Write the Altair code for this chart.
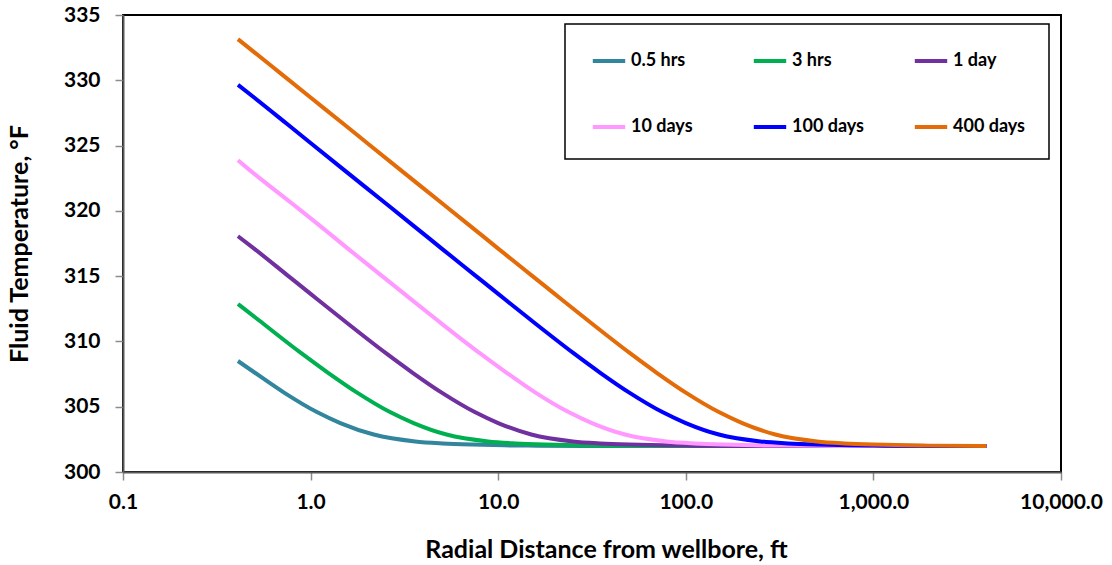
import altair as alt
import pandas as pd

# Radial distance from wellbore (ft) and fluid temperature (°F)
R_05H = [0.41, 0.505, 0.722, 1.08, 1.44, 2.17, 3.61, 5.05, 7.22, 10.8, 14.4, 28.9, 4000]
T_05H = [308.50, 307.60, 306.08, 304.59, 303.75, 302.87, 302.34, 302.19, 302.10, 302.04,
         302.02, 302.00, 302.00]

R_3H = [0.41, 0.53, 0.884, 1.24, 1.77, 2.65, 3.54, 5.3, 8.84, 12.4, 17.7, 26.5, 35.4, 70.7, 4000]
T_3H = [312.87, 311.62, 309.14, 307.60, 306.08, 304.59, 303.75, 302.87, 302.34, 302.19,
        302.10, 302.04, 302.02, 302.00, 302.00]

R_1D = [0.41, 0.5, 0.75, 1, 1.5, 2.5, 3.5, 5, 7.5, 10, 15, 25, 35, 50, 75, 100, 200, 4000]
T_1D = [318.06, 317.11, 315.08, 313.64, 311.62, 309.14, 307.60, 306.08, 304.59, 303.75,
        302.87, 302.34, 302.19, 302.10, 302.04, 302.02, 302.00, 302.00]

R_10D = [0.41, 0.47, 0.79, 1.11, 1.58, 2.37, 3.16, 4.74, 7.91, 11.1, 15.8, 23.7, 31.6,
         47.4, 79.1, 111, 158, 237, 316, 632, 4000]
T_10D = [323.87, 323.16, 320.60, 318.91, 317.11, 315.08, 313.64, 311.62, 309.14, 307.60,
         306.08, 304.59, 303.75, 302.87, 302.34, 302.19, 302.10, 302.04, 302.02, 302.00, 302.00]

R_100D = [0.41, 0.5, 0.75, 1, 1.5, 2.5, 3.5, 5, 7.5, 10, 15, 25, 35, 50, 75, 100, 150,
          250, 350, 500, 750, 1000, 2000, 4000]
T_100D = [329.65, 328.68, 326.65, 325.20, 323.16, 320.60, 318.91, 317.11, 315.08, 313.64,
          311.62, 309.14, 307.60, 306.08, 304.59, 303.75, 302.87, 302.34, 302.19, 302.10,
          302.04, 302.02, 302.00, 302.00]

R_400D = [0.41, 0.5, 0.7, 1, 1.5, 2, 3, 5, 7, 10, 15, 20, 30, 50, 70, 100, 150, 200, 300,
          500, 700, 1000, 1500, 2000, 4000]
T_400D = [333.15, 332.16, 330.47, 328.68, 326.65, 325.20, 323.16, 320.60, 318.91, 317.11,
          315.08, 313.64, 311.62, 309.14, 307.60, 306.08, 304.59, 303.75, 302.87, 302.34,
          302.19, 302.10, 302.04, 302.02, 302.00]

LABELS = ["0.5 hrs", "3 hrs", "1 day", "10 days", "100 days", "400 days"]
RADII = [R_05H, R_3H, R_1D, R_10D, R_100D, R_400D]
TEMPS = [T_05H, T_3H, T_1D, T_10D, T_100D, T_400D]
COLORS = ["#31859C", "#00B050", "#7030A0", "#FF99FF", "#0000FF", "#E36C09"]

X_TICKS = [0.1, 1, 10, 100, 1000, 10000]
Y_TICKS = [300, 305, 310, 315, 320, 325, 330, 335]

FONT = "Lato"

x_enc = alt.X(
    "r:Q",
    scale=alt.Scale(type="log", domain=[0.1, 10000], nice=False),
    axis=alt.Axis(
        values=X_TICKS, format=",.1f", title="Radial Distance from wellbore, ft",
        grid=False, domainColor="#595959", domainWidth=2,
        tickColor="#8c8c8c", tickWidth=1.5, tickSize=8,
        labelFont=FONT, labelFontSize=21, labelFontWeight="bold", labelColor="black",
        labelPadding=11, labelFlush=False, labelOverlap=False,
        titleFont=FONT, titleFontSize=25, titleFontWeight="bold", titleColor="black",
        titlePadding=25, titleX=483, titleAlign="center",
    ),
)
y_enc = alt.Y(
    "T:Q",
    scale=alt.Scale(domain=[300, 335], nice=False, zero=False),
    axis=alt.Axis(
        values=Y_TICKS, format="d", title="Fluid Temperature, °F",
        grid=False, domainColor="#595959", domainWidth=2,
        tickColor="#8c8c8c", tickWidth=1.5, tickSize=8,
        labelFont=FONT, labelFontSize=21, labelFontWeight="bold", labelColor="black",
        labelPadding=15,
        titleFont=FONT, titleFontSize=25, titleFontWeight="bold", titleColor="black",
        titlePadding=31,
    ),
)
color_enc = alt.Color(
    "series:N",
    scale=alt.Scale(domain=LABELS, range=COLORS),
    legend=alt.Legend(
        title=None, orient="none", legendX=442, legendY=9,
        direction="horizontal", columns=3, gridAlign="all",
        symbolType="M-1.35,0H1.35", symbolStrokeWidth=4, symbolSize=576,
        symbolOffset=7, symbolFillColor="transparent",
        labelFont=FONT, labelFontSize=18, labelFontWeight="bold", labelColor="black",
        labelOffset=8, columnPadding=41, rowPadding=43, padding=23,
        strokeColor="black", fillColor="white",
    ),
)

layers = []
for label, radii, temps in zip(LABELS, RADII, TEMPS):
    df = pd.DataFrame({"r": radii, "T": temps, "series": label})
    layers.append(
        alt.Chart(df).mark_line(strokeWidth=4, interpolate="monotone").encode(
            x=x_enc, y=y_enc, color=color_enc
        )
    )

chart = alt.layer(*layers).properties(
    width=938, height=457,
    autosize=alt.AutoSizeParams(type="none"),
    padding={"left": 123, "top": 15, "right": 51, "bottom": 93},
    background="white",
).configure_view(stroke="black", strokeWidth=2).configure_legend(strokeWidth=1.5)

chart.save("out.html", embed_options={"renderer": "svg", "actions": False})
